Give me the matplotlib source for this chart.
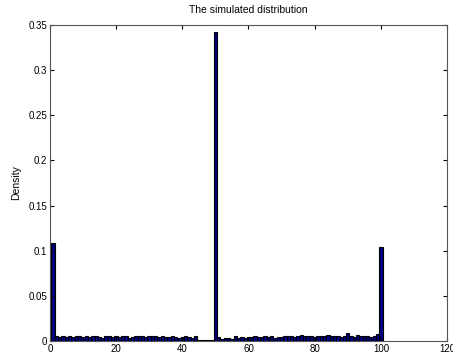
import matplotlib
matplotlib.use("Agg")
import matplotlib.pyplot as plt
import numpy as np

plt.rcParams['font.family'] = ['Liberation Sans', 'DejaVu Sans']

bin_centers = list(range(1, 101))
density = [
    0.109, 0.006, 0.004, 0.005, 0.004, 0.006, 0.004, 0.005, 0.006, 0.004,
    0.005, 0.004, 0.006, 0.005, 0.004, 0.003, 0.005, 0.006, 0.004, 0.005,
    0.004, 0.005, 0.006, 0.003, 0.004, 0.005, 0.006, 0.005, 0.004, 0.005,
    0.005, 0.006, 0.004, 0.005, 0.004, 0.004, 0.005, 0.004, 0.003, 0.004,
    0.005, 0.004, 0.003, 0.005, 0.001, 0.001, 0.001, 0.001, 0.001, 0.342,
    0.004, 0.002, 0.003, 0.003, 0.002, 0.005, 0.003, 0.004, 0.003, 0.004,
    0.004, 0.005, 0.004, 0.004, 0.006, 0.004, 0.005, 0.003, 0.004, 0.004,
    0.005, 0.006, 0.005, 0.004, 0.006, 0.007, 0.005, 0.006, 0.005, 0.004,
    0.006, 0.005, 0.006, 0.007, 0.005, 0.006, 0.005, 0.004, 0.005, 0.009,
    0.005, 0.004, 0.007, 0.005, 0.006, 0.005, 0.004, 0.006, 0.008, 0.104,
]
x_ticks = [0, 20, 40, 60, 80, 100, 120]
y_ticks = [0, 0.05, 0.1, 0.15, 0.2, 0.25, 0.3, 0.35]
y_ticklabels = ['0', '0.05', '0.1', '0.15', '0.2', '0.25', '0.3', '0.35']

fig = plt.figure(figsize=(4.53, 3.53), dpi=100)
ax = fig.add_axes([0.110, 0.034, 0.877, 0.895])
ax.bar(bin_centers, density, width=1.0, color='#000080', edgecolor='black', linewidth=0.8)
ax.set_xlim(0, 120)
ax.set_ylim(0, 0.35)
ax.set_xticks(x_ticks)
ax.set_xticklabels([str(t) for t in x_ticks])
ax.set_yticks(y_ticks)
ax.set_yticklabels(y_ticklabels)
ax.tick_params(direction='in', length=3, labelsize=7, width=0.8, top=True, right=True, pad=2)
for s in ax.spines.values():
    s.set_color('#555555')
    s.set_linewidth(0.8)
ax.set_title('The simulated distribution', fontsize=7.5, pad=9)
ax.set_ylabel('Density', fontsize=7.5, labelpad=5)
fig.savefig('out.png', dpi=100)
